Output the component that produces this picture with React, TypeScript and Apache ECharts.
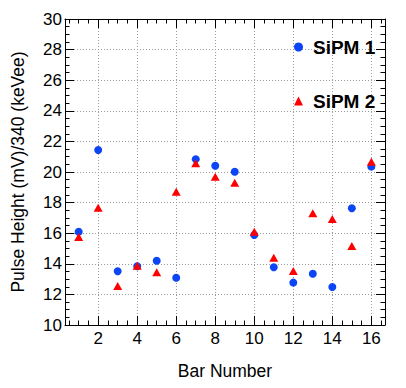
import React, { useEffect, useRef } from "react";
import * as echarts from "echarts";

const bars = [1, 2, 3, 4, 5, 6, 7, 8, 9, 10, 11, 12, 13, 14, 15, 16];
const sipm1 = [16.1, 21.44, 13.51, 13.84, 14.2, 13.09, 20.83, 20.41, 20.02, 15.88, 13.77, 12.77, 13.35, 12.48, 17.63, 20.35];
const sipm2 = [15.75, 17.67, 12.55, 13.88, 13.44, 18.71, 20.57, 19.69, 19.3, 16.1, 14.4, 13.53, 17.3, 16.93, 15.16, 20.67];
const xMajorTicks = [2, 4, 6, 8, 10, 12, 14, 16];
const xMinorTicks = [0.5, 1, 1.5, 2, 2.5, 3, 3.5, 4, 4.5, 5, 5.5, 6, 6.5, 7, 7.5, 8, 8.5, 9, 9.5, 10, 10.5, 11, 11.5, 12, 12.5, 13, 13.5, 14, 14.5, 15, 15.5, 16, 16.5];
const seriesNames = ["SiPM 1", "SiPM 2"];
const xTitle = "Bar Number";
const yTitle = "Pulse Height (mV)/340 (keVee)";

const FONT = "'Liberation Sans', Arial, Helvetica, sans-serif";
const BLUE = "#0b45f5";
const RED = "#ff0000";
const GRID = { color: "#9a9a9a", type: [1, 2] as any, width: 1 };

export default function App() {
  const ref = useRef<HTMLDivElement>(null);
  useEffect(() => {
    document.body.style.margin = "0";
    const chart = echarts.init(ref.current!, null, { renderer: "svg" });
    const xBase = { type: "value", min: 0.3, max: 16.7, scale: true };
    chart.setOption({
      animation: false,
      backgroundColor: "#ffffff",
      textStyle: { fontFamily: FONT },
      grid: { left: 65, top: 19, width: 320, height: 306, containLabel: false },
      legend: {
        orient: "vertical",
        left: 294,
        top: 37,
        padding: 0,
        itemGap: 34,
        itemWidth: 9,
        itemHeight: 9,
        selectedMode: false,
        textStyle: { fontSize: 19, fontWeight: "bold", color: "#000", fontFamily: FONT, lineHeight: 20, padding: [0, 0, 0, 5] },
        data: [
          { name: seriesNames[0], icon: "circle" },
          { name: seriesNames[1], icon: "triangle" },
        ],
      },
      xAxis: [
        {
          ...xBase,
          position: "bottom",
          axisLine: { show: true, lineStyle: { color: "#000", width: 1 } },
          axisTick: { show: true, inside: true, length: 9, customValues: xMajorTicks, lineStyle: { color: "#000" } },
          axisLabel: { show: true, customValues: xMajorTicks, fontSize: 17, color: "#000", margin: 5, fontFamily: FONT },
          splitLine: { show: true, lineStyle: GRID },
          name: xTitle,
          nameLocation: "middle",
          nameGap: 37,
          nameTextStyle: { fontSize: 17.5, color: "#000", fontFamily: FONT },
        },
        {
          ...xBase,
          position: "bottom",
          axisLine: { show: false },
          axisTick: { show: true, inside: true, length: 4.5, customValues: xMinorTicks, lineStyle: { color: "#000" } },
          axisLabel: { show: false },
          splitLine: { show: false },
        },
        {
          ...xBase,
          position: "top",
          axisLine: { show: true, lineStyle: { color: "#000", width: 1 } },
          axisTick: { show: true, inside: true, length: 9, customValues: xMajorTicks, lineStyle: { color: "#000" } },
          axisLabel: { show: false },
          splitLine: { show: false },
        },
        {
          ...xBase,
          position: "top",
          axisLine: { show: false },
          axisTick: { show: true, inside: true, length: 4.5, customValues: xMinorTicks, lineStyle: { color: "#000" } },
          axisLabel: { show: false },
          splitLine: { show: false },
        },
      ],
      yAxis: [
        {
          type: "value",
          min: 10,
          max: 30,
          interval: 2,
          position: "left",
          axisLine: { show: true, lineStyle: { color: "#000", width: 1 } },
          axisTick: { show: true, inside: true, length: 9, lineStyle: { color: "#000" } },
          minorTick: { show: true, splitNumber: 4, length: 4.5, lineStyle: { color: "#000" } },
          axisLabel: { fontSize: 17, color: "#000", margin: 3, fontFamily: FONT },
          splitLine: { show: true, lineStyle: GRID },
          name: yTitle,
          nameLocation: "middle",
          nameGap: 38,
          nameTextStyle: { fontSize: 17.5, color: "#000", fontFamily: FONT },
        },
        {
          type: "value",
          min: 10,
          max: 30,
          interval: 2,
          position: "right",
          axisLine: { show: true, lineStyle: { color: "#000", width: 1 } },
          axisTick: { show: true, inside: true, length: 9, lineStyle: { color: "#000" } },
          minorTick: { show: true, splitNumber: 4, length: 4.5, lineStyle: { color: "#000" } },
          axisLabel: { show: false },
          splitLine: { show: false },
        },
      ],
      series: [
        {
          name: seriesNames[0],
          type: "scatter",
          symbol: "circle",
          symbolSize: 8,
          itemStyle: { color: BLUE, opacity: 1 },
          data: bars.map((b, i) => [b, sipm1[i]]),
          z: 3,
        },
        {
          name: seriesNames[1],
          type: "scatter",
          symbol: "triangle",
          symbolSize: [9, 8],
          itemStyle: { color: RED, opacity: 1 },
          data: bars.map((b, i) => [b, sipm2[i]]),
          z: 4,
        },
      ],
    });
    return () => chart.dispose();
  }, []);
  return <div ref={ref} style={{ position: "fixed", left: 0, top: 0, width: 406, height: 388 }} />;
}
